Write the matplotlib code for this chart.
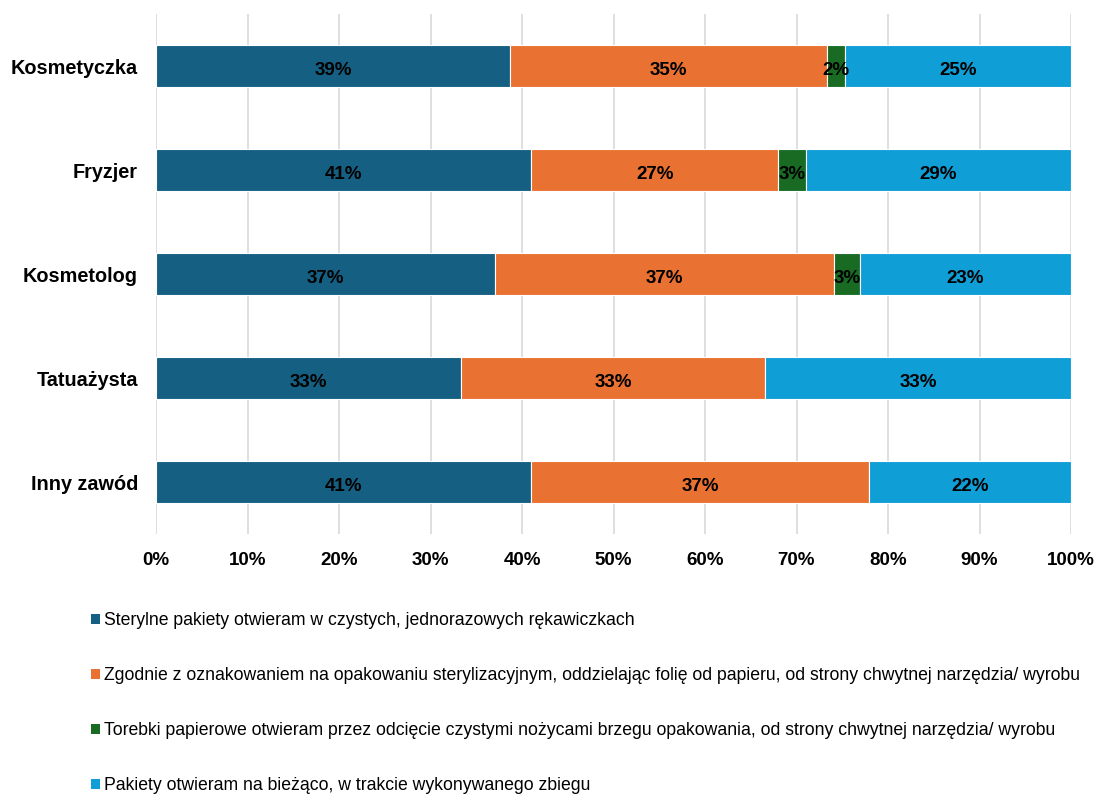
import numpy as np
import matplotlib
matplotlib.use("Agg")
import matplotlib.pyplot as plt
from matplotlib.patches import Patch

plt.rcParams['font.family'] = ['Liberation Sans', 'DejaVu Sans']

categories = ['Kosmetyczka', 'Fryzjer', 'Kosmetolog', 'Tatuażysta', 'Inny zawód']
series_names = [
    'Sterylne pakiety otwieram w czystych, jednorazowych rękawiczkach',
    'Zgodnie z oznakowaniem na opakowaniu sterylizacyjnym, oddzielając folię od papieru, od strony chwytnej narzędzia/ wyrobu',
    'Torebki papierowe otwieram przez odcięcie czystymi nożycami brzegu opakowania, od strony chwytnej narzędzia/ wyrobu',
    'Pakiety otwieram na bieżąco, w trakcie wykonywanego zbiegu',
]
sterylne = [38.7, 41.0, 37.0, 33.3, 41.0]
zgodnie = [34.6, 27.0, 37.1, 33.3, 36.9]
torebki = [2.0, 3.0, 2.8, 0.0, 0.0]
biezaco = [24.7, 29.0, 23.1, 33.4, 22.1]
colors = ['#156082', '#E97132', '#196B24', '#0F9ED5']

fig = plt.figure(figsize=(11.01, 8.0), dpi=100)
ax = fig.add_axes([156/1101, 1 - 534/800, 915/1101, 520/800])

y = np.arange(len(categories))
left = np.zeros(len(categories))
for vals, col, name in zip([sterylne, zgodnie, torebki, biezaco], colors, series_names):
    vals = np.array(vals)
    ax.barh(y, vals, left=left, height=0.41, color=col, edgecolor='white',
            linewidth=0.8, label=name, zorder=3)
    for yi, l, v in zip(y, left, vals):
        if v > 0:
            ax.text(l + v / 2, yi + 0.04, f'{v:.0f}%', ha='center', va='center',
                    fontsize=13.5, fontweight='bold', color='black', zorder=4)
    left += vals

ax.set_xlim(0, 100)
ax.set_ylim(len(categories) - 0.5, -0.5)
ax.set_xticks(np.arange(0, 101, 10))
ax.set_xticklabels([f'{t}%' for t in range(0, 101, 10)], fontsize=13.5, fontweight='bold')
ax.set_yticks(y)
ax.set_yticklabels(categories, fontsize=14.3, fontweight='bold')
ax.tick_params(axis='both', length=0)
ax.tick_params(axis='x', pad=13)
ax.tick_params(axis='y', pad=13)
ax.grid(axis='x', color='#D9D9D9', linewidth=1.2, zorder=0)
for s in ax.spines.values():
    s.set_visible(False)

handles = [Patch(facecolor=c, edgecolor='none') for c in colors]
fig.legend(handles, series_names, loc='upper left', bbox_to_anchor=(84/1101, 1 - 605/800),
           frameon=False, fontsize=12.7, handlelength=0.5, handleheight=0.5,
           handletextpad=0.25, labelspacing=2.15, borderaxespad=0)

fig.savefig('out.png', dpi=100)
